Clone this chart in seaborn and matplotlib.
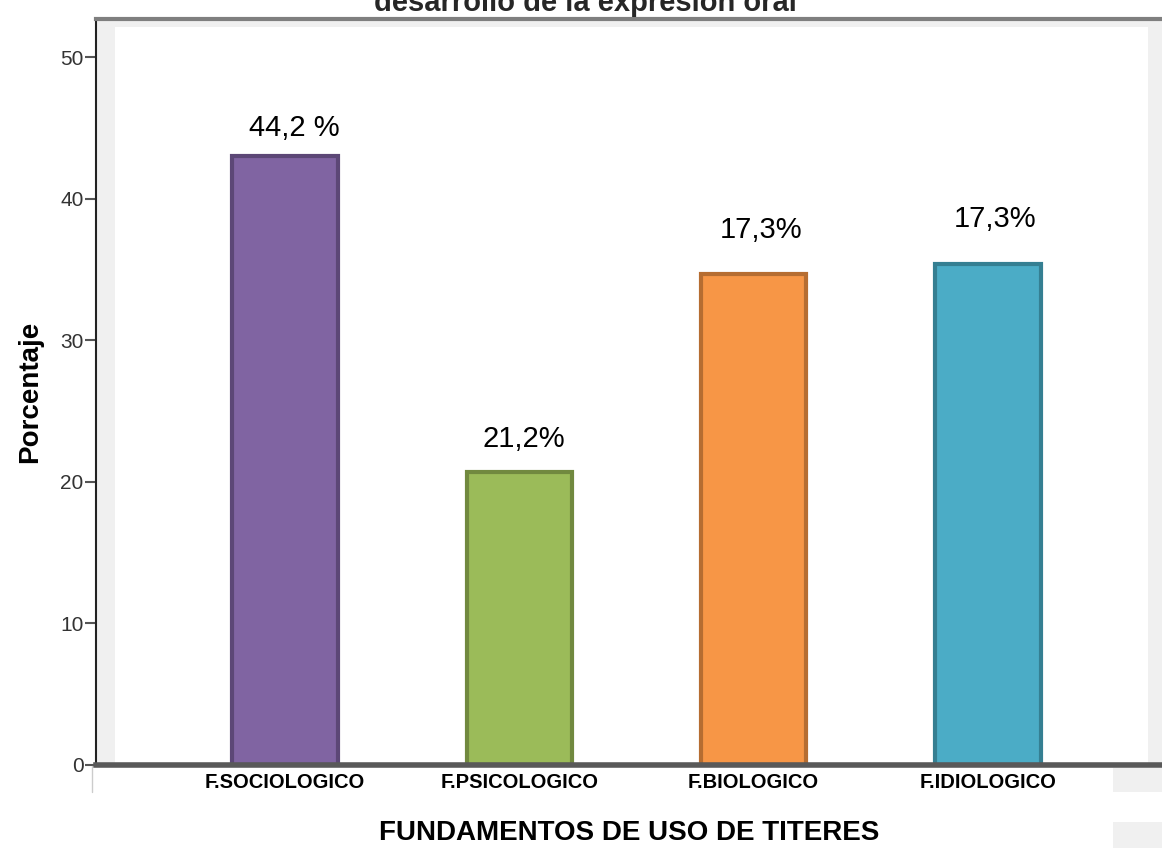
import matplotlib
matplotlib.use("Agg")
import matplotlib.pyplot as plt
from matplotlib.patches import Rectangle
from matplotlib.lines import Line2D
import seaborn as sns
import pandas as pd

categories = ["F.SOCIOLOGICO", "F.PSICOLOGICO", "F.BIOLOGICO", "F.IDIOLOGICO"]
values = [43.0, 20.7, 34.7, 35.4]
labels = ["44,2 %", "21,2%", "17,3%", "17,3%"]
fill_colors = ["#8064A2", "#9BBB59", "#F79646", "#4BACC6"]
edge_colors = ["#5C4776", "#71893F", "#B66D31", "#357F92"]
label_dy = [2.0, 2.3, 3.1, 3.2]
label_dx = [0.04, 0.02, 0.03, 0.03]
yticks = [0, 10, 20, 30, 40, 50]

sns.set_theme(style="white")
plt.rcParams["font.family"] = ["Liberation Sans", "DejaVu Sans"]

df = pd.DataFrame({"cat": categories, "val": values})

fig = plt.figure(figsize=(11.62, 8.48), dpi=100)
ax = fig.add_axes([96 / 1162, 1 - 765 / 848, 1 - 96 / 1162, (765 - 19) / 848])
ax.set_facecolor("#f0f0f0")

sns.barplot(data=df, x="cat", y="val", hue="cat", palette=fill_colors,
            saturation=1, width=0.45, legend=False, ax=ax, zorder=3)
bars = [p for c in ax.containers for p in c]
for p, ec in zip(bars, edge_colors):
    p.set_edgecolor(ec)
    p.set_linewidth(3)

ax.add_patch(Rectangle((0.0178, 0), 0.987 - 0.0178, 0.989, transform=ax.transAxes,
                       facecolor="white", edgecolor="none", zorder=0))

for i, (v, lab) in enumerate(zip(values, labels)):
    ax.text(i + label_dx[i], v + label_dy[i], lab, ha="center", va="center",
            fontsize=21, color="black", zorder=5)

ax.set_xlim(-0.807, 3.743)
ax.set_ylim(0, 52.7)
ax.set_yticks(yticks)
ax.set_yticklabels([str(t) for t in yticks], fontsize=15, color="#333333")
ax.tick_params(axis="y", which="both", left=True, length=8, width=1.5,
               color="#555555", pad=1)
ax.tick_params(axis="x", length=0, pad=6)
for t in ax.get_xticklabels():
    t.set_fontweight("bold")
    t.set_fontsize(14.5)
    t.set_color("black")

for s in ["left", "top", "bottom", "right"]:
    ax.spines[s].set_visible(True)
ax.spines["left"].set_color("#222222")
ax.spines["left"].set_linewidth(1.5)
ax.spines["top"].set_color("#7f7f7f")
ax.spines["top"].set_linewidth(3)
ax.spines["bottom"].set_color("#595959")
ax.spines["bottom"].set_linewidth(4)
ax.spines["bottom"].set_zorder(6)
ax.spines["right"].set_visible(False)

ax.set_xlabel("FUNDAMENTOS DE USO DE TITERES", fontsize=20, fontweight="bold",
              labelpad=20, color="black")
ax.set_ylabel("Porcentaje", fontsize=20, fontweight="bold", labelpad=12, color="black")

fig.text(585 / 1162, 1 - 11 / 848, "desarrollo de la expresión oral", ha="center",
         va="baseline", fontsize=21, fontweight="bold")

fig.patches.append(Rectangle((1113 / 1162, 1 - 792 / 848), 49 / 1162, 24 / 848,
                             transform=fig.transFigure, facecolor="#f0f0f0",
                             edgecolor="none"))
fig.patches.append(Rectangle((1113 / 1162, 0), 49 / 1162, 26 / 848,
                             transform=fig.transFigure, facecolor="#f0f0f0",
                             edgecolor="none"))
fig.lines.append(Line2D([92 / 1162, 92 / 1162], [1 - 792 / 848, 1 - 766 / 848],
                        transform=fig.transFigure, color="#cccccc", linewidth=1))

fig.savefig("out.png", dpi=100)
